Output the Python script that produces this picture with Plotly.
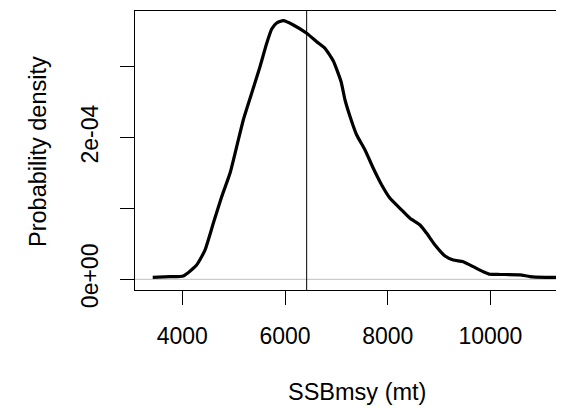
import plotly.graph_objects as go

# Density curve of SSBmsy
ssb_x = [3424, 3760, 4019, 4280, 4442, 4604, 4767, 4929, 5059, 5188, 5351, 5513,
         5644, 5741, 5838, 5967, 6162, 6423, 6617, 6779, 6941, 7091, 7169, 7276,
         7396, 7558, 7719, 7883, 8045, 8239, 8434, 8629, 8759, 8921, 9116, 9277,
         9472, 9667, 9862, 9992, 10187, 10576, 10771, 11063, 11433, 11700]
density = [2.8e-6, 3.7e-6, 4.7e-6, 2.02e-5, 4.13e-5, 7.90e-5, 1.165e-4, 1.495e-4,
           1.870e-4, 2.247e-4, 2.623e-4, 2.999e-4, 3.329e-4, 3.530e-4, 3.615e-4,
           3.647e-4, 3.587e-4, 3.470e-4, 3.351e-4, 3.258e-4, 3.079e-4, 2.790e-4,
           2.529e-4, 2.275e-4, 2.035e-4, 1.824e-4, 1.566e-4, 1.330e-4, 1.142e-4,
           1.001e-4, 8.60e-5, 7.66e-5, 6.49e-5, 4.84e-5, 3.29e-5, 2.72e-5, 2.48e-5,
           1.78e-5, 1.07e-5, 7.1e-6, 6.8e-6, 6.3e-6, 3.9e-6, 2.8e-6, 2.5e-6, 2.0e-6]

ref_value = 6422  # vertical reference line (SSBmsy estimate)

x_ticks = [4000, 6000, 8000, 10000]
x_ticklabels = ["4000", "6000", "8000", "10000"]
y_ticks = [0, 1e-4, 2e-4, 3e-4]
y_ticklabels = ["0e+00", "", "2e-04", ""]

x_title = "SSBmsy (mt)"
y_title = "Probability density"

FONT = "Liberation Sans, Arial, sans-serif"
FS = 23
FS_TITLE = 23.5

fig = go.Figure()
fig.add_trace(go.Scatter(x=ssb_x, y=density, mode="lines",
                         line=dict(color="black", width=3.2, shape="spline", smoothing=0.5),
                         showlegend=False, hoverinfo="skip"))

fig.add_shape(type="line", xref="paper", yref="y", x0=0, x1=1, y0=0, y1=0,
              line=dict(color="#bebebe", width=1), layer="below")
fig.add_shape(type="line", xref="x", yref="paper", x0=ref_value, x1=ref_value, y0=0, y1=1,
              line=dict(color="black", width=1))

# The page body adds an 8px margin, so the figure is 8px smaller than the window
fig.update_layout(
    width=556, height=400,
    margin=dict(l=127, r=0, t=3, b=118, pad=0),
    paper_bgcolor="white", plot_bgcolor="white",
    font=dict(family=FONT, size=FS, color="black"),
    xaxis=dict(range=[3079, 11433], tickvals=x_ticks, ticktext=x_ticklabels,
               showgrid=False, zeroline=False, showline=True, linecolor="black",
               linewidth=1, mirror=True, ticks="outside", ticklen=14, tickwidth=1,
               tickcolor="black", tickfont=dict(size=FS, family=FONT, color="black"),
               ticklabelstandoff=11),
    yaxis=dict(range=[-1.509e-5, 3.784e-4], tickvals=y_ticks, ticktext=y_ticklabels,
               showgrid=False, zeroline=False, showline=True, linecolor="black",
               linewidth=1, mirror=False, ticks="outside", ticklen=14, tickwidth=1,
               tickcolor="black", tickangle=-90,
               tickfont=dict(size=FS, family=FONT, color="black"),
               ticklabelstandoff=13),
    annotations=[
        dict(text=x_title, xref="paper", yref="paper", x=0.5175, y=-0.3656,
             xanchor="center", yanchor="middle", showarrow=False,
             font=dict(size=FS_TITLE, family=FONT, color="black")),
        dict(text=y_title, xref="paper", yref="paper", x=-0.2261, y=0.4946,
             xanchor="center", yanchor="middle", textangle=-90, showarrow=False,
             font=dict(size=FS_TITLE, family=FONT, color="black")),
    ],
)

fig.write_html("out.html")
